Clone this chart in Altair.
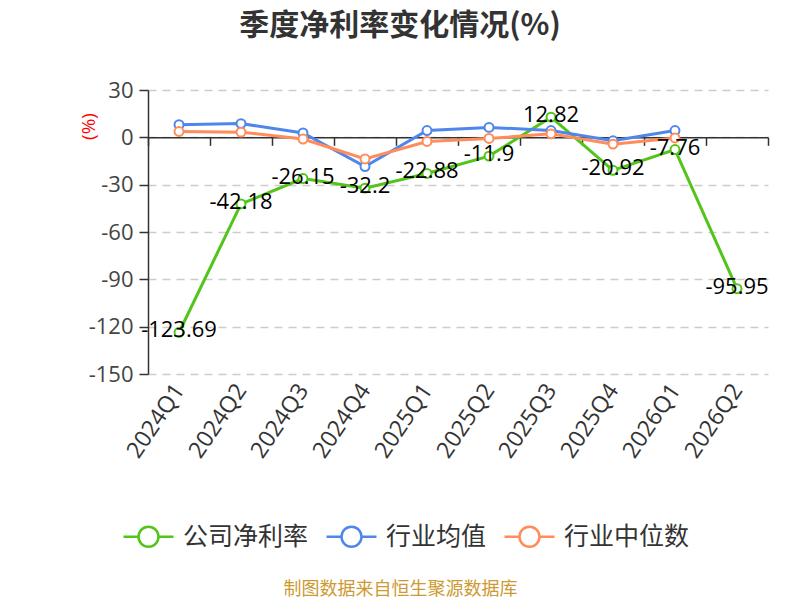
import altair as alt
import pandas as pd

quarters = ["2024Q1", "2024Q2", "2024Q3", "2024Q4", "2025Q1",
            "2025Q2", "2025Q3", "2025Q4", "2026Q1", "2026Q2"]
company = [-123.69, -42.18, -26.15, -32.2, -22.88, -11.9, 12.82, -20.92, -7.76, -95.95]
industry_avg = [8.0, 8.7, 2.8, -18.5, 4.3, 6.3, 4.3, -2.2, 4.3]
industry_median = [3.7, 3.3, -1.1, -13.7, -2.6, -0.7, 2.2, -4.3, -0.4]
series_names = ["公司净利率", "行业均值", "行业中位数"]
series_colors = ["#52c41a", "#4f86ec", "#ff8c5a"]
y_ticks = [30, 0, -30, -60, -90, -120, -150]

rows = []
for name, vals in zip(series_names, [company, industry_avg, industry_median]):
    for q, v in zip(quarters, vals):
        rows.append({"quarter": q, "series": name, "value": v})
df = pd.DataFrame(rows)
df_company = pd.DataFrame({"quarter": quarters, "value": company,
                           "label": [f"{v:g}" for v in company]})

FONT = "Open Sans, Noto Sans CJK SC, sans-serif"
CJK = "Noto Sans CJK SC, sans-serif"
W, H = 620, 284
zero_px = H * 30 / 180

x_enc = alt.X(
    "quarter:N", sort=quarters, bandPosition=0.5,
    scale=alt.Scale(type="band", paddingInner=0, paddingOuter=0),
    axis=alt.Axis(
        title="制图数据来自恒生聚源数据库", titleColor="#cc9a32", titleFontSize=18,
        titleFontWeight="normal", titleFont=CJK, titleX=252, titleY=452,
        titleAlign="center", titleBaseline="middle", titleAngle=0,
        offset=-(H - zero_px), tickBand="extent", tickSize=8, tickColor="#333333",
        tickWidth=1.5, domainColor="#333333", domainWidth=1.5,
        labelAngle=304, labelAlign="right", labelBaseline="middle",
        labelPadding=H - zero_px + 4, labelFontSize=23, labelColor="#333333",
        labelFont=FONT, grid=False,
    ),
)
y_enc = alt.Y(
    "value:Q",
    scale=alt.Scale(domain=[-150, 30], nice=False, zero=False),
    axis=alt.Axis(
        values=y_ticks, title="(%)", titleColor="red", titleFontSize=19,
        titleFontWeight="normal", titleFont=FONT, titleAngle=270,
        titleX=-60, titleY=36, titleAlign="center", titleBaseline="middle",
        tickSize=9, tickColor="#333333", tickWidth=1.5,
        domainColor="#333333", domainWidth=1.5, labelPadding=6,
        labelExpr="datum.value + ''",
        labelFontSize=22, labelColor="#444444", labelFont=FONT,
        grid=True, gridColor="#cccccc", gridDash=[8, 6], gridWidth=1.5,
    ),
)

legend_symbol = ("M-1,0L-0.4,0M0.4,0A0.4,0.4,0,1,1,-0.4,0"
                 "A0.4,0.4,0,1,1,0.4,0M0.4,0L1,0")
color_enc = alt.Color(
    "series:N",
    scale=alt.Scale(domain=series_names, range=series_colors),
    legend=alt.Legend(
        orient="none", legendX=-26, legendY=420, direction="horizontal",
        title=None, symbolType=legend_symbol, symbolSize=2500,
        symbolStrokeWidth=2.5, symbolFillColor="white", labelFontSize=25,
        labelColor="#333333", labelFont=CJK, columnPadding=12, labelOffset=8,
    ),
)

lines = alt.Chart(df).mark_line(strokeWidth=3).encode(
    x=x_enc, y=y_enc, color=color_enc, detail="series:N"
)
points = alt.Chart(df).mark_point(
    filled=False, fill="white", size=80, strokeWidth=2, opacity=1
).encode(x=x_enc, y=y_enc, color=color_enc)
labels = alt.Chart(df_company).mark_text(
    fontSize=22, color="black", font=FONT, dy=-2, align="center", baseline="middle"
).encode(x=x_enc, y=y_enc, text="label:N")

chart = alt.layer(lines, points, labels).properties(
    width=W, height=H,
    autosize=alt.AutoSizeParams(type="none"),
    padding={"left": 140, "top": 82, "right": 24, "bottom": 226},
    title=alt.Title(
        "季度净利率变化情况(%)", fontSize=30, fontWeight="bold", color="#333333",
        font=CJK, anchor="middle", frame="group", dx=-58, offset=8,
        baseline="bottom",
    ),
).configure_view(stroke=None)

chart.save("out.html", embed_options={"renderer": "svg", "actions": False})
